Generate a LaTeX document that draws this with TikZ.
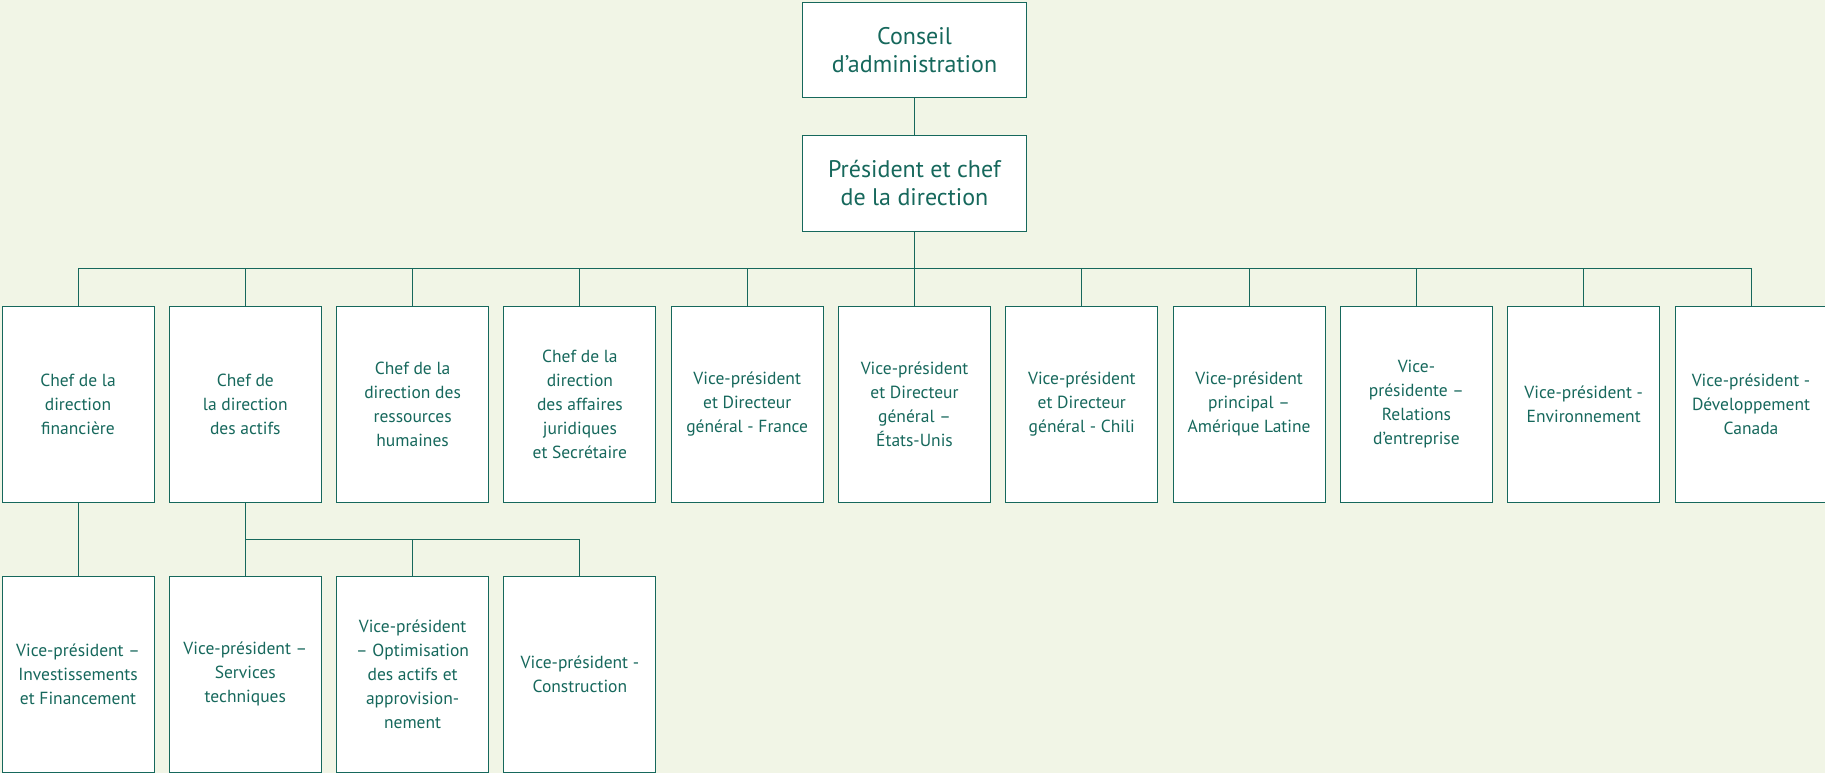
\documentclass[tikz,border=0pt]{standalone}
\usepackage{fontspec}
\setmainfont{PT Sans}
\usetikzlibrary{positioning,calc}
\definecolor{orgline}{RGB}{22,104,92}
\definecolor{orgbg}{RGB}{241,245,230}
\tikzset{%
  link/.style   = { draw = orgline, line width = 1pt },
  obox/.style   = { draw = orgline, fill = white, line width = 1pt, align = center, inner sep = 0pt, outer sep = 0pt,
    text = orgline, font = \fontsize{17.5}{24}\selectfont, minimum width = 152pt, minimum height = 196pt },
  hbox/.style   = { draw = orgline, fill = white, line width = 1pt, align = center, inner sep = 0pt, outer sep = 0pt,
    text = orgline, font = \fontsize{24}{28}\selectfont, minimum width = 224pt, minimum height = 95pt },
}
\begin{document}
\begin{tikzpicture}[x=1pt, y=-1pt]
    % background and frame ------------------------------------------------------------------------
    \fill[orgbg] (0,0) rectangle (1825,773);
    \useasboundingbox (0,0) rectangle (1825,773);
    % first row of boxes
    \node(c1)  [obox] at (78,404)       {Chef de la\\direction\\financière};
    \node(c2)  [obox, right = 15.3pt of c1]  {Chef de\\la direction\\des actifs};
    \node(c3)  [obox, right = 15.3pt of c2]  {Chef de la\\direction des\\ressources\\humaines};
    \node(c4)  [obox, right = 15.3pt of c3]  {Chef de la\\direction\\des affaires\\juridiques\\et Secrétaire};
    \node(c5)  [obox, right = 15.3pt of c4]  {Vice-président\\et Directeur\\général - France};
    \node(c6)  [obox, right = 15.3pt of c5]  {Vice-président\\et Directeur\\général –\\États-Unis};
    \node(c7)  [obox, right = 15.3pt of c6]  {Vice-président\\et Directeur\\général - Chili};
    \node(c8)  [obox, right = 15.3pt of c7]  {Vice-président\\principal –\\Amérique Latine};
    \node(c9)  [obox, right = 15.3pt of c8]  {Vice-\\présidente –\\Relations\\d’entreprise};
    \node(c10) [obox, right = 15.3pt of c9]  {Vice-président -\\Environnement};
    \node(c11) [obox, right = 15.3pt of c10] {Vice-président -\\Développement\\Canada};
    % top of the chart
    \node(ceo)   [hbox, above = 75pt of c6]  {Président et chef\\de la direction};
    \node(board) [hbox, above = 38pt of ceo] {Conseil\\d’administration};
    % second row
    \node(v1) [obox, below = 74pt of c1] {Vice-président –\\Investissements\\et Financement};
    \node(v2) [obox, below = 74pt of c2] {Vice-président –\\Services\\techniques};
    \node(v3) [obox, below = 74pt of c3] {Vice-président\\– Optimisation\\des actifs et\\approvision-\\nement};
    \node(v4) [obox, below = 74pt of c4] {Vice-président -\\Construction};
    % links ----------------------------------------------------------------------------------------
    \coordinate(bus)  at ($(ceo.south)!0.5!(c6.north)$);
    \coordinate(bus2) at ($(c2.south)!0.5!(v2.north)$);
    \draw[link] (board) -- (ceo);
    \draw[link] (ceo) -- (c6);
    \draw[link] (c1.north)  |- (bus);
    \draw[link] (c2.north)  |- (bus);
    \draw[link] (c3.north)  |- (bus);
    \draw[link] (c4.north)  |- (bus);
    \draw[link] (c5.north)  |- (bus);
    \draw[link] (c7.north)  |- (bus);
    \draw[link] (c8.north)  |- (bus);
    \draw[link] (c9.north)  |- (bus);
    \draw[link] (c10.north) |- (bus);
    \draw[link] (c11.north) |- (bus);
    % under the first two boxes
    \draw[link] (c1) -- (v1);
    \draw[link] (c2) -- (v2);
    \draw[link] (v3.north) |- (bus2);
    \draw[link] (v4.north) |- (bus2);
\end{tikzpicture}
\end{document}
